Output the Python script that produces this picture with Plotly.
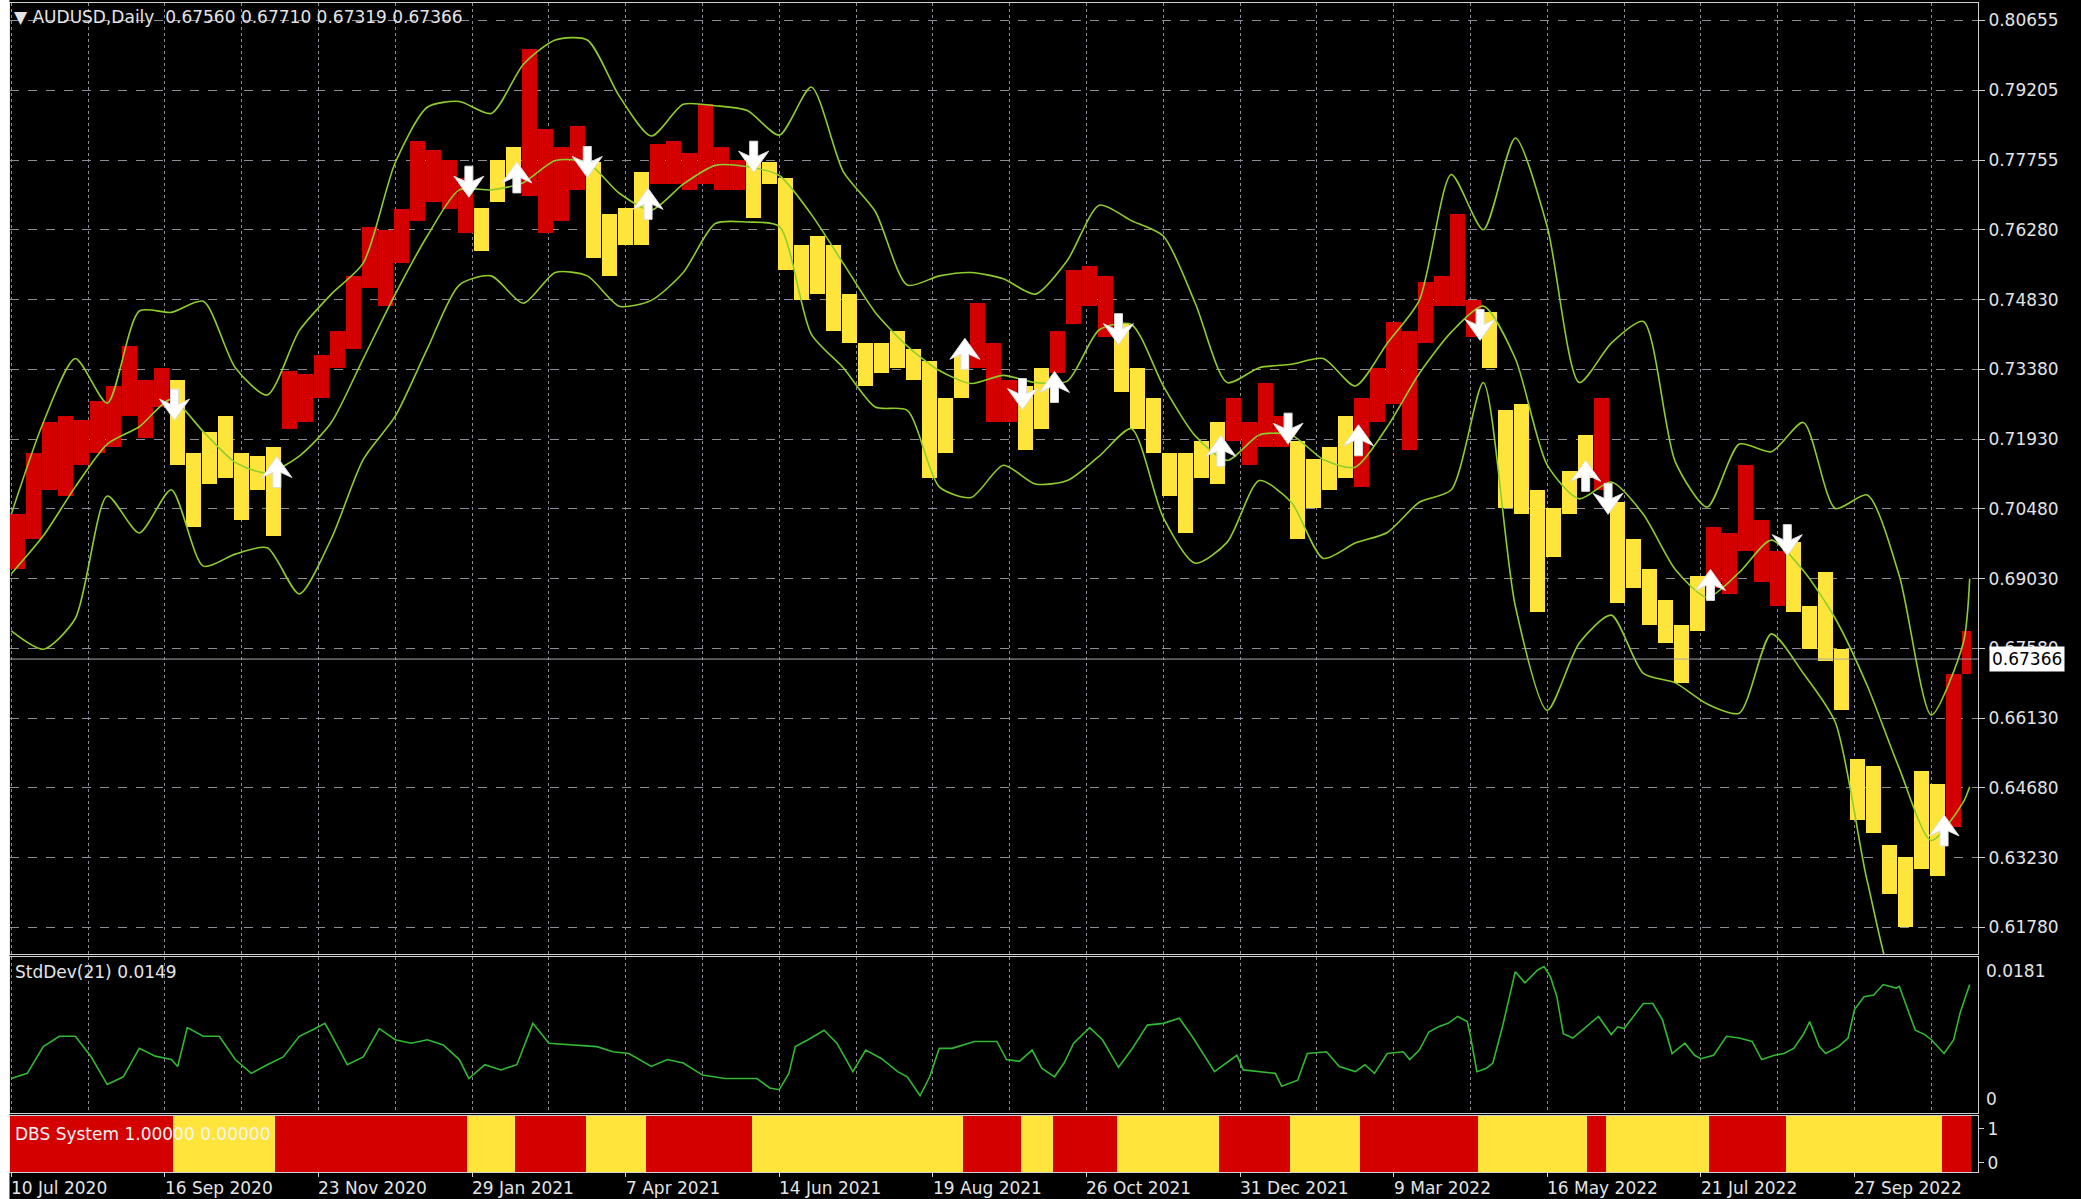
import numpy as np
import plotly.graph_objects as go

# ---------------- data ----------------
header_text = "▼ AUDUSD,Daily  0.67560 0.67710 0.67319 0.67366"
last_price = 0.67366
n_bars = 613
bars_per_label = 48
date_labels = ["10 Jul 2020", "16 Sep 2020", "23 Nov 2020", "29 Jan 2021", "7 Apr 2021",
               "14 Jun 2021", "19 Aug 2021", "26 Oct 2021", "31 Dec 2021", "9 Mar 2022",
               "16 May 2022", "21 Jul 2022", "27 Sep 2022"]
price_ticks = ["0.80655", "0.79205", "0.77755", "0.76280", "0.74830", "0.73380", "0.71930",
               "0.70480", "0.69030", "0.67580", "0.66130", "0.64680", "0.63230", "0.61780"]

# weekly (5-bar) high / low of AUDUSD daily bars
bars_per_week = 5
week_high = [0.7038, 0.7165, 0.7229, 0.7242, 0.7235, 0.7273, 0.7305, 0.7388, 0.7318, 0.7343,
             0.7318, 0.7165, 0.7210, 0.7242, 0.7165, 0.7159, 0.7178, 0.7337, 0.7330, 0.7369,
             0.7420, 0.7534, 0.7636, 0.7630, 0.7674, 0.7815, 0.7796, 0.7776, 0.7738, 0.7675,
             0.7776, 0.7802, 0.8006, 0.7840, 0.7802, 0.7846, 0.7770, 0.7662, 0.7675, 0.7751,
             0.7808, 0.7815, 0.7789, 0.7891, 0.7802, 0.7776, 0.7776, 0.7770, 0.7738, 0.7598,
             0.7617, 0.7598, 0.7496, 0.7394, 0.7394, 0.7420, 0.7382, 0.7356, 0.7280, 0.7369,
             0.7477, 0.7394, 0.7318, 0.7305, 0.7343, 0.7420, 0.7547, 0.7554, 0.7534, 0.7433,
             0.7343, 0.7280, 0.7165, 0.7165, 0.7191, 0.7229, 0.7280, 0.7229, 0.7312, 0.7242,
             0.7191, 0.7152, 0.7178, 0.7242, 0.7280, 0.7343, 0.7439, 0.7420, 0.7522, 0.7534,
             0.7662, 0.7483, 0.7458, 0.7254, 0.7267, 0.7089, 0.7050, 0.7127, 0.7203, 0.7280,
             0.7063, 0.6987, 0.6923, 0.6859, 0.6808, 0.6910, 0.7012, 0.6999, 0.7140, 0.7025,
             0.6961, 0.6980, 0.6847, 0.6917, 0.6758, 0.6528, 0.6515, 0.6350, 0.6324, 0.6503,
             0.6477, 0.6706, 0.6796]
week_low = [0.6923, 0.6987, 0.7089, 0.7076, 0.7140, 0.7165, 0.7178, 0.7242, 0.7197, 0.7261,
            0.7140, 0.7012, 0.7101, 0.7114, 0.7025, 0.7089, 0.6993, 0.7216, 0.7229, 0.7280,
            0.7343, 0.7382, 0.7509, 0.7471, 0.7560, 0.7649, 0.7687, 0.7674, 0.7624, 0.7585,
            0.7687, 0.7738, 0.7700, 0.7624, 0.7649, 0.7713, 0.7572, 0.7534, 0.7598, 0.7598,
            0.7725, 0.7725, 0.7713, 0.7725, 0.7713, 0.7713, 0.7655, 0.7725, 0.7547, 0.7483,
            0.7496, 0.7420, 0.7394, 0.7305, 0.7331, 0.7343, 0.7318, 0.7114, 0.7165, 0.7280,
            0.7343, 0.7229, 0.7229, 0.7171, 0.7216, 0.7331, 0.7433, 0.7471, 0.7407, 0.7292,
            0.7216, 0.7165, 0.7076, 0.6999, 0.7114, 0.7101, 0.7191, 0.7140, 0.7178, 0.7178,
            0.6987, 0.7050, 0.7089, 0.7114, 0.7095, 0.7229, 0.7267, 0.7171, 0.7394, 0.7471,
            0.7471, 0.7407, 0.7343, 0.7050, 0.7038, 0.6834, 0.6949, 0.7038, 0.7114, 0.7089,
            0.6853, 0.6885, 0.6808, 0.6770, 0.6687, 0.6796, 0.6885, 0.6872, 0.6961, 0.6898,
            0.6847, 0.6834, 0.6758, 0.6732, 0.6630, 0.6401, 0.6375, 0.6248, 0.6178, 0.6299,
            0.6286, 0.6388, 0.6706]

# Bollinger-type envelope, sampled every 10 bars (+ last bar)
band_bar = list(range(0, 611, 10)) + [612]
band_upper = [0.7038, 0.7229, 0.7362, 0.7269, 0.7461, 0.7458, 0.7481, 0.7343, 0.7286, 0.7420,
              0.7496, 0.7561, 0.7770, 0.7885, 0.7897, 0.7872, 0.7974, 0.8025, 0.8025, 0.7908,
              0.7825, 0.7891, 0.7888, 0.7878, 0.7827, 0.7927, 0.7751, 0.7668, 0.7515, 0.7534,
              0.7541, 0.7528, 0.7496, 0.7566, 0.7681, 0.7649, 0.7617, 0.7477, 0.7312, 0.7343,
              0.7350, 0.7362, 0.7305, 0.7394, 0.7483, 0.7745, 0.7630, 0.7821, 0.7636, 0.7312,
              0.7394, 0.7439, 0.7147, 0.7053, 0.7184, 0.7168, 0.7229, 0.7050, 0.7078, 0.6910,
              0.6620, 0.6770, 0.6904]
band_mid = [0.6914, 0.6993, 0.7095, 0.7184, 0.7220, 0.7277, 0.7210, 0.7146, 0.7124, 0.7159,
            0.7229, 0.7362, 0.7496, 0.7617, 0.7713, 0.7713, 0.7728, 0.7774, 0.7770, 0.7706,
            0.7671, 0.7725, 0.7764, 0.7761, 0.7743, 0.7662, 0.7560, 0.7458, 0.7388, 0.7337,
            0.7310, 0.7327, 0.7312, 0.7315, 0.7422, 0.7433, 0.7305, 0.7201, 0.7150, 0.7203,
            0.7203, 0.7152, 0.7136, 0.7220, 0.7331, 0.7417, 0.7471, 0.7362, 0.7140, 0.7070,
            0.7105, 0.7038, 0.6923, 0.6865, 0.6917, 0.6984, 0.6921, 0.6821, 0.6681, 0.6509,
            0.6359, 0.6439, 0.6471]
band_lower = [0.6795, 0.6757, 0.6821, 0.7076, 0.6999, 0.7089, 0.6930, 0.6955, 0.6968, 0.6872,
              0.6987, 0.7152, 0.7242, 0.7382, 0.7515, 0.7534, 0.7477, 0.7541, 0.7534, 0.7471,
              0.7483, 0.7541, 0.7643, 0.7646, 0.7637, 0.7413, 0.7343, 0.7261, 0.7254, 0.7095,
              0.7073, 0.7140, 0.7101, 0.7108, 0.7159, 0.7216, 0.7031, 0.6936, 0.6980, 0.7108,
              0.7063, 0.6946, 0.6978, 0.7000, 0.7063, 0.7089, 0.7312, 0.6847, 0.6630, 0.6770,
              0.6828, 0.6707, 0.6687, 0.6643, 0.6624, 0.6789, 0.6707, 0.6605, 0.6274, 0.6040,
              0.6120, 0.6095, 0.6090]

# StdDev(21)
std_bar = [0, 5, 10, 15, 20, 25, 30, 35, 40, 45, 50, 52, 55, 60, 65, 70, 75, 80, 85, 90, 95, 98,
           100, 105, 110, 115, 120, 125, 130, 135, 140, 143, 148, 153, 158, 163, 168, 175, 183,
           188, 193, 200, 205, 210, 216, 223, 233, 237, 240, 243, 245, 249, 254, 258, 263, 267,
           272, 277, 280, 284, 287, 290, 294, 301, 308, 311, 315, 319, 322, 326, 329, 332, 337,
           341, 346, 350, 355, 360, 365, 369, 376, 383, 385, 395, 397, 402, 405, 411, 415, 420,
           423, 426, 430, 435, 437, 440, 443, 446, 449, 452, 455, 456, 458, 461, 463, 466, 468,
           470, 473, 477, 479, 481, 483, 485, 488, 493, 496, 500, 502, 504, 507, 510, 513, 516,
           519, 523, 526, 528, 532, 536, 540, 544, 547, 551, 554, 557, 560, 562, 565, 567, 571,
           574, 576, 579, 582, 585, 589, 590, 595, 598, 600, 604, 607, 609, 612]
std_val = [0.0040, 0.0046, 0.0077, 0.0089, 0.0089, 0.0065, 0.0033, 0.0042, 0.0075, 0.0066,
           0.0062, 0.0054, 0.0099, 0.0089, 0.0089, 0.0062, 0.0046, 0.0056, 0.0065, 0.0089,
           0.0098, 0.0104, 0.0091, 0.0056, 0.0065, 0.0098, 0.0085, 0.0081, 0.0085, 0.0079,
           0.0062, 0.0040, 0.0056, 0.0050, 0.0056, 0.0104, 0.0081, 0.0079, 0.0077, 0.0071,
           0.0069, 0.0054, 0.0062, 0.0058, 0.0044, 0.0040, 0.0040, 0.0029, 0.0027, 0.0046,
           0.0077, 0.0085, 0.0096, 0.0081, 0.0048, 0.0073, 0.0063, 0.0048, 0.0042, 0.0020,
           0.0042, 0.0075, 0.0075, 0.0083, 0.0083, 0.0062, 0.0060, 0.0073, 0.0052, 0.0042,
           0.0058, 0.0081, 0.0099, 0.0085, 0.0053, 0.0073, 0.0102, 0.0104, 0.0110, 0.0089,
           0.0048, 0.0067, 0.0050, 0.0046, 0.0031, 0.0038, 0.0069, 0.0071, 0.0054, 0.0048,
           0.0056, 0.0046, 0.0069, 0.0071, 0.0062, 0.0073, 0.0094, 0.0100, 0.0104, 0.0112,
           0.0106, 0.0089, 0.0048, 0.0052, 0.0058, 0.0100, 0.0133, 0.0164, 0.0151, 0.0166,
           0.0170, 0.0158, 0.0135, 0.0092, 0.0087, 0.0102, 0.0112, 0.0091, 0.0100, 0.0098,
           0.0112, 0.0127, 0.0127, 0.0108, 0.0069, 0.0081, 0.0067, 0.0063, 0.0067, 0.0089,
           0.0087, 0.0083, 0.0062, 0.0067, 0.0069, 0.0075, 0.0091, 0.0106, 0.0077, 0.0069,
           0.0077, 0.0087, 0.0120, 0.0135, 0.0137, 0.0149, 0.0145, 0.0147, 0.0096, 0.0091,
           0.0085, 0.0069, 0.0085, 0.0116, 0.0149]
std_label = "StdDev(21) 0.0149"
std_max_label = "0.0181"

# DBS System state: first bar of each segment, 1 = red (up), 0 = yellow (down)
dbs_start = [0, 51, 83, 143, 158, 180, 199, 232, 298, 316, 326, 346, 378, 400, 422, 459,
             493, 499, 531, 555, 604]
dbs_state = [1, 0, 1, 0, 1, 0, 1, 0, 1, 0, 1, 0, 1, 0, 1, 0, 1, 0, 1, 0, 1]
dbs_label = "DBS System 1.00000 0.00000"

# signal arrows (bar index, price at arrow centre)
arrow_down_bar = [51, 143, 180, 232, 316, 346, 399, 459, 499, 555]
arrow_down_price = [0.7265, 0.7729, 0.7770, 0.7781, 0.7287, 0.7422, 0.7215, 0.7431, 0.7069, 0.6983]
arrow_up_bar = [83, 158, 199, 298, 326, 378, 421, 492, 531, 604]
arrow_up_price = [0.7127, 0.7740, 0.7685, 0.7373, 0.7304, 0.7171, 0.7193, 0.7119, 0.6892, 0.6381]

# ---------------- styling ----------------
RED = "#d40000"
YEL = "#ffe53b"
BAND = "#8fcd2c"
STDC = "#32b832"
GRID = "#8c8c98"
AXL = "#d0d0d0"
TXT = "#e4e4e4"
FONT = "DejaVu Sans"
FS = 17

W, H = 2081, 1199
ML, MR, MT, MB = 10, 103, 3, 27
PW, PH = W - ML - MR, H - MT - MB

state = np.zeros(n_bars, dtype=int)
for i, s in enumerate(dbs_start):
    state[s:] = dbs_state[i]

fig = go.Figure()

# price bars (weekly ranges)
cx, bw, base, hgt, cols = [], [], [], [], []
for k in range(len(week_high)):
    s = k * bars_per_week
    e = min(s + bars_per_week - 1, n_bars - 1)
    c = (s + e) / 2
    cx.append(c)
    bw.append((e - s + 1) * 0.95)
    base.append(week_low[k])
    hgt.append(week_high[k] - week_low[k])
    cols.append(RED if state[int(round(c))] == 1 else YEL)
fig.add_trace(go.Bar(x=cx, y=hgt, base=base, width=bw, marker=dict(color=cols, line=dict(width=0)),
                     xaxis="x", yaxis="y", showlegend=False, hoverinfo="skip"))

for band in (band_upper, band_mid, band_lower):
    fig.add_trace(go.Scatter(x=band_bar, y=band, mode="lines",
                             line=dict(color=BAND, width=1.6, shape="spline", smoothing=0.7),
                             xaxis="x", yaxis="y", showlegend=False, hoverinfo="skip"))

# StdDev panel
fig.add_trace(go.Scatter(x=std_bar, y=std_val, mode="lines", line=dict(color=STDC, width=1.6),
                         xaxis="x2", yaxis="y2", showlegend=False, hoverinfo="skip"))

# DBS panel
dbs_lo, dbs_hi = -0.265, 1.382
seg_end = dbs_start[1:] + [n_bars]
fig.add_trace(go.Bar(
    x=[(a + b - 1) / 2 for a, b in zip(dbs_start, seg_end)],
    width=[b - a for a, b in zip(dbs_start, seg_end)],
    y=[dbs_hi - dbs_lo] * len(dbs_start), base=[dbs_lo] * len(dbs_start),
    marker=dict(color=[RED if s == 1 else YEL for s in dbs_state], line=dict(width=0)),
    xaxis="x3", yaxis="y3", showlegend=False, hoverinfo="skip"))

# ---------------- axes ----------------
ptop, pbot = float(price_ticks[0]), float(price_ticks[-1])
ptick_vals = np.linspace(ptop, pbot, len(price_ticks))
label_vals = [i * bars_per_label for i in range(len(date_labels))]
minor_vals = [v + bars_per_label // 2 for v in label_vals]
xrng = [-0.4, -0.4 + PW / 3.2]

xcommon = dict(range=xrng, showgrid=True, gridcolor=GRID, griddash="dot", gridwidth=1,
               tickvals=label_vals, zeroline=False, showline=True, linecolor=AXL, mirror=True,
               showticklabels=False,
               minor=dict(tickvals=minor_vals, showgrid=True, gridcolor=GRID, griddash="dot",
                          gridwidth=1, ticklen=0))

d_main = [(H - MB - 954) / PH, 1.0]
d_std = [(H - MB - 1113) / PH, (H - MB - 957) / PH]
d_dbs = [0.0, (H - MB - 1116) / PH]

fig.update_layout(
    width=W, height=H, margin=dict(l=ML, r=MR, t=MT, b=MB),
    paper_bgcolor="black", plot_bgcolor="black", bargap=0, barmode="overlay",
    font=dict(family=FONT, size=FS, color=TXT),
    xaxis=dict(**xcommon, anchor="y", ticks=""),
    xaxis2=dict(**xcommon, anchor="y2", matches="x", ticks=""),
    xaxis3=dict(**xcommon, anchor="y3", matches="x", ticks="outside", ticklen=4, tickcolor=AXL),
    yaxis=dict(domain=d_main, range=[0.61228, 0.81019], side="right", tickvals=ptick_vals,
               ticktext=price_ticks, showgrid=True, gridcolor=GRID, griddash="dash",
               ticks="outside", ticklen=6, tickcolor=AXL, showline=True, linecolor=AXL,
               mirror=True, zeroline=False, tickfont=dict(size=FS, color=TXT)),
    yaxis2=dict(domain=d_std, range=[0, 0.0181], side="right", showticklabels=False,
                showgrid=False, ticks="", showline=True, linecolor=AXL, mirror=True,
                zeroline=False),
    yaxis3=dict(domain=d_dbs, range=[dbs_lo, dbs_hi], side="right", tickvals=[1, 0],
                ticktext=["1", "0"], showgrid=False, ticks="outside", ticklen=5,
                tickcolor=AXL, showline=True, linecolor=AXL, mirror=True, zeroline=False,
                tickfont=dict(size=FS, color=TXT)),
)

shapes = [
    dict(type="line", xref="x domain", x0=0, x1=1, yref="y", y0=last_price, y1=last_price,
         line=dict(color="#a8a8b0", width=1)),
    dict(type="rect", xref="paper", x0=-ML / PW, x1=-0.5 / PW,
         yref="paper", y0=-MB / PH, y1=1 + MT / PH, fillcolor="white", line=dict(width=0),
         layer="above"),
]

# arrow glyph (pixel offsets around the anchor; +y = up), stem + swept-back head
def arrow_path(sign):
    pts = [(-4, 16), (4, 16), (4, 1), (15, 6), (0, -15), (-15, 6), (-4, 1)]
    return "M " + " L ".join(f"{x},{sign * y}" for x, y in pts) + " Z"

for b, p in zip(arrow_down_bar, arrow_down_price):
    shapes.append(dict(type="path", xref="x", yref="y", xsizemode="pixel", ysizemode="pixel",
                       xanchor=b, yanchor=p, path=arrow_path(1), fillcolor="white",
                       line=dict(color="#dddddd", width=1), layer="above"))
for b, p in zip(arrow_up_bar, arrow_up_price):
    shapes.append(dict(type="path", xref="x", yref="y", xsizemode="pixel", ysizemode="pixel",
                       xanchor=b, yanchor=p, path=arrow_path(-1), fillcolor="white",
                       line=dict(color="#dddddd", width=1), layer="above"))
fig.update_layout(shapes=shapes)

ann = [
    dict(text=header_text, xref="paper", x=0, xanchor="left", xshift=2, yref="paper", y=1,
         yanchor="top", yshift=-2, showarrow=False, font=dict(size=FS, color=TXT)),
    dict(text=std_label, xref="paper", x=0, xanchor="left", xshift=3, yref="y2 domain", y=1,
         yanchor="top", yshift=-3, showarrow=False, font=dict(size=FS, color=TXT)),
    dict(text=dbs_label, xref="paper", x=0, xanchor="left", xshift=3, yref="y3 domain", y=1,
         yanchor="top", yshift=-6, showarrow=False, font=dict(size=FS, color="#f4f4f4")),
    dict(text=std_max_label, xref="paper", x=1, xanchor="left", xshift=6, yref="y2 domain",
         y=1, yanchor="top", yshift=-2, showarrow=False, font=dict(size=FS, color=TXT)),
    dict(text="0", xref="paper", x=1, xanchor="left", xshift=6, yref="y2 domain",
         y=0, yanchor="bottom", yshift=2, showarrow=False, font=dict(size=FS, color=TXT)),
    dict(text=f"{last_price:.5f}", xref="paper", x=1, xanchor="left", xshift=11, yref="y",
         y=last_price, yanchor="middle", showarrow=False, bgcolor="white", borderpad=2,
         font=dict(size=FS, color="black")),
]
# date labels: MT4 writes them to the right of their tick
for v, t in zip(label_vals, date_labels):
    ann.append(dict(text=t, xref="x3", x=v, xanchor="left", xshift=-2, yref="paper", y=0,
                    yanchor="middle", yshift=-16, showarrow=False,
                    font=dict(size=FS, color=TXT)))
fig.update_layout(annotations=ann)

fig.write_html("out.html", config={"displayModeBar": False},
               post_script="document.body.style.margin='0';document.body.style.overflow='hidden';")
